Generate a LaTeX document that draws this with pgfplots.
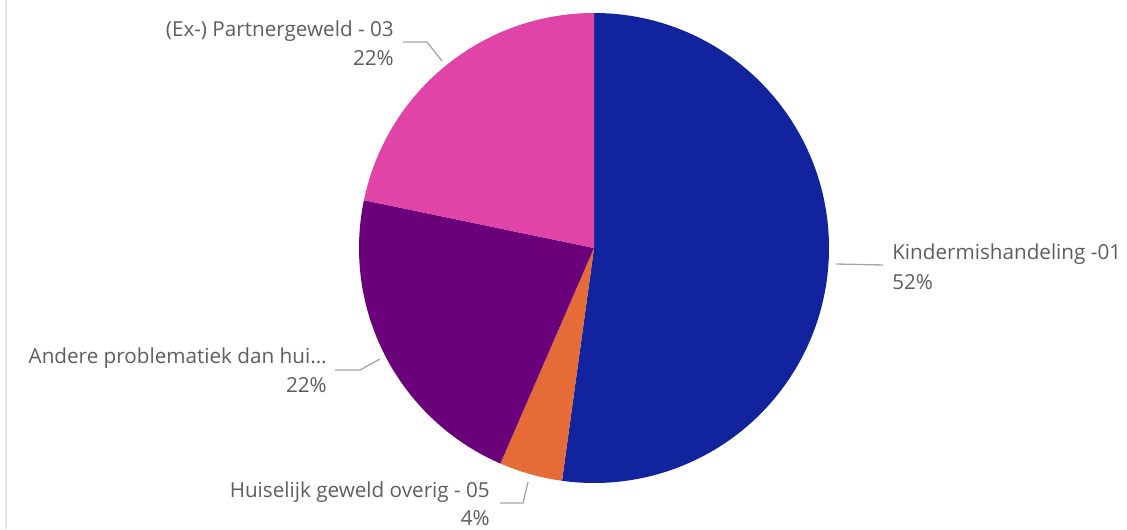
\documentclass[border=0pt]{standalone}
\usepackage{pgfplots}
\pgfplotsset{compat=1.18}
\usepackage{pgfplotstable}
\usepackage{fontspec}
\setmainfont{Open Sans}
\definecolor{cBlue}{HTML}{12239E}
\definecolor{cOrange}{HTML}{E66C37}
\definecolor{cPurple}{HTML}{6B007B}
\definecolor{cPink}{HTML}{E044A7}
\definecolor{cText}{HTML}{605E5C}
\definecolor{cLead}{HTML}{A6A6A6}
\definecolor{cBorder}{HTML}{E6E6E6}
\pgfplotstableread{
idx value
0 12
1 1
2 5
3 5
}\piedata
\tikzset{lbl/.style={font=\fontsize{15.5}{18}\selectfont, text=cText, inner sep=0pt}}
\begin{document}
\begin{tikzpicture}
\pgfplotstablegetelem{0}{value}\of\piedata \let\vA\pgfplotsretval
\pgfplotstablegetelem{1}{value}\of\piedata \let\vB\pgfplotsretval
\pgfplotstablegetelem{2}{value}\of\piedata \let\vC\pgfplotsretval
\pgfplotstablegetelem{3}{value}\of\piedata \let\vD\pgfplotsretval
\pgfmathsetmacro\tot{\vA+\vB+\vC+\vD}
\pgfmathsetmacro\aA{90}
\pgfmathsetmacro\aB{90-360*\vA/\tot}
\pgfmathsetmacro\aC{\aB-360*\vB/\tot}
\pgfmathsetmacro\aD{\aC-360*\vC/\tot}
\pgfmathsetmacro\aE{\aD-360*\vD/\tot}
\def\R{235}
\begin{axis}[
  name=ax,
  x=0.75pt, y=0.75pt,
  xmin=-594, xmax=533, ymin=-281, ymax=248,
  hide axis, clip=false,
]
\fill[cBlue] (axis cs:0,0) -- (axis cs:{\R*cos(\aA)},{\R*sin(\aA)}) arc[start angle=\aA, end angle=\aB, radius=176.25pt] -- cycle;
\fill[cOrange] (axis cs:0,0) -- (axis cs:{\R*cos(\aB)},{\R*sin(\aB)}) arc[start angle=\aB, end angle=\aC, radius=176.25pt] -- cycle;
\fill[cPurple] (axis cs:0,0) -- (axis cs:{\R*cos(\aC)},{\R*sin(\aC)}) arc[start angle=\aC, end angle=\aD, radius=176.25pt] -- cycle;
\fill[cPink] (axis cs:0,0) -- (axis cs:{\R*cos(\aD)},{\R*sin(\aD)}) arc[start angle=\aD, end angle=\aE, radius=176.25pt] -- cycle;
% border line on the left
\addplot[cBorder, line width=1.5pt, no marks] coordinates {(-588,248) (-588,-281)};
% leader lines
\addplot[cLead, line width=1pt, no marks] coordinates {(242,-16) (289,-17)};
\addplot[cLead, line width=1pt, no marks] coordinates {(-191,206) (-167,206) (-152,187)};
\addplot[cLead, line width=1pt, no marks] coordinates {(-259,-122) (-234,-122) (-214,-111)};
\addplot[cLead, line width=1pt, no marks] coordinates {(-94,-255) (-71,-255) (-66,-234)};
% labels
\node[lbl, anchor=base west] at (axis cs:298,-11) {Kindermishandeling -01};
\node[lbl, anchor=base west] at (axis cs:298,-41) {52\%};
\node[lbl, anchor=base east] at (axis cs:-200,211) {(Ex-) Partnergeweld - 03};
\node[lbl, anchor=base east] at (axis cs:-200,182) {22\%};
\node[lbl, anchor=base east] at (axis cs:-267,-115) {Andere problematiek dan hui...};
\node[lbl, anchor=base east] at (axis cs:-267,-144) {22\%};
\node[lbl, anchor=base east] at (axis cs:-104,-249) {Huiselijk geweld overig - 05};
\node[lbl, anchor=base east] at (axis cs:-104,-277) {4\%};
\end{axis}
\pgfresetboundingbox
\path (ax.south west) rectangle (ax.north east);
\end{tikzpicture}
\end{document}
